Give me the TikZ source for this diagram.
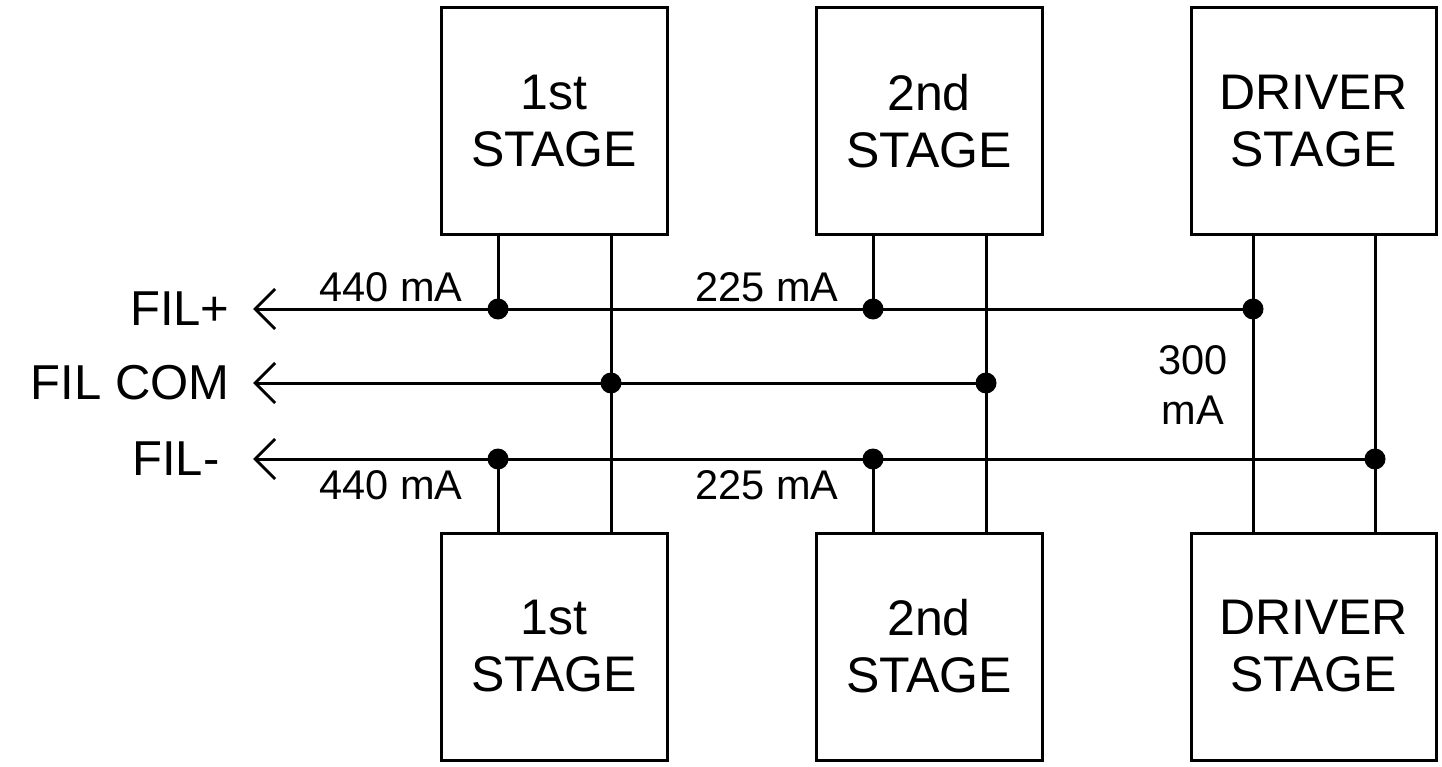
\documentclass[tikz,border=0pt]{standalone}
\usepackage{fontspec}
\setmainfont{Liberation Sans}
\usetikzlibrary{arrows.meta}
\begin{document}
\begin{tikzpicture}[x=1pt,y=-1pt,line width=3pt,
  stagebox/.style={draw,inner sep=0pt,align=center,font=\fontsize{50}{57}\selectfont},
  lbl/.style={inner sep=0pt,font=\fontsize{49}{57}\selectfont},
  cur/.style={inner sep=0pt,align=center,font=\fontsize{41.5}{50}\selectfont},
  dot/.style={circle,fill=black,inner sep=0pt,minimum size=21pt},
  tip/.style={-{Straight Barb[length=20pt,width=40pt,line width=3pt]}}]
\useasboundingbox (0,0) rectangle (1442,767);
% boxes
\node[stagebox,minimum width=226pt,minimum height=227pt] (t1) at (554,121.5) {1st\\STAGE};
\node[stagebox,minimum width=226pt,minimum height=227pt] (t2) at (929,121.5) {2nd\\STAGE};
\node[stagebox,minimum width=245pt,minimum height=227pt] (t3) at (1313.5,121.5) {DRIVER\\STAGE};
\node[stagebox,minimum width=226pt,minimum height=227pt] (b1) at (554,646.5) {1st\\STAGE};
\node[stagebox,minimum width=226pt,minimum height=227pt] (b2) at (929,646.5) {2nd\\STAGE};
\node[stagebox,minimum width=245pt,minimum height=227pt] (b3) at (1313.5,646.5) {DRIVER\\STAGE};
% junctions
\coordinate (p1) at (498,309);
\coordinate (p2) at (873,309);
\coordinate (p3) at (1253,309);
\coordinate (c1) at (611,383);
\coordinate (c2) at (986,383);
\coordinate (m1) at (498,459);
\coordinate (m2) at (873,459);
\coordinate (m3) at (1375,459);
\coordinate (ap) at (253,309);
\coordinate (ac) at (253,383);
\coordinate (am) at (253,459);
% bus lines
\draw[tip] (p3) -- (ap);
\draw[tip] (c2) -- (ac);
\draw[tip] (m3) -- (am);
% verticals
\draw (t1.south -| p1) -- (p1);
\draw (t1.south -| c1) -- (b1.north -| c1);
\draw (b1.north -| m1) -- (m1);
\draw (t2.south -| p2) -- (p2);
\draw (t2.south -| c2) -- (b2.north -| c2);
\draw (b2.north -| m2) -- (m2);
\draw (t3.south -| p3) -- (b3.north -| p3);
\draw (t3.south -| m3) -- (b3.north -| m3);
% dots
\foreach \j in {p1,p2,p3,c1,c2,m1,m2,m3} \node[dot] at (\j) {};
% labels
\node[lbl,anchor=east] (lp) at (231,309) {FIL+};
\node[lbl,anchor=east] (lc) at (231,383) {FIL COM};
\node[lbl,anchor=east] (lm) at (221,459) {FIL-};
\node[cur] (i1) at (391,287) {440 mA};
\node[cur] (i2) at (767,287) {225 mA};
\node[cur] (i3) at (391,485) {440 mA};
\node[cur] (i4) at (767,485) {225 mA};
\node[cur] (i5) at (1193,385) {300\\mA};
\end{tikzpicture}
\end{document}
